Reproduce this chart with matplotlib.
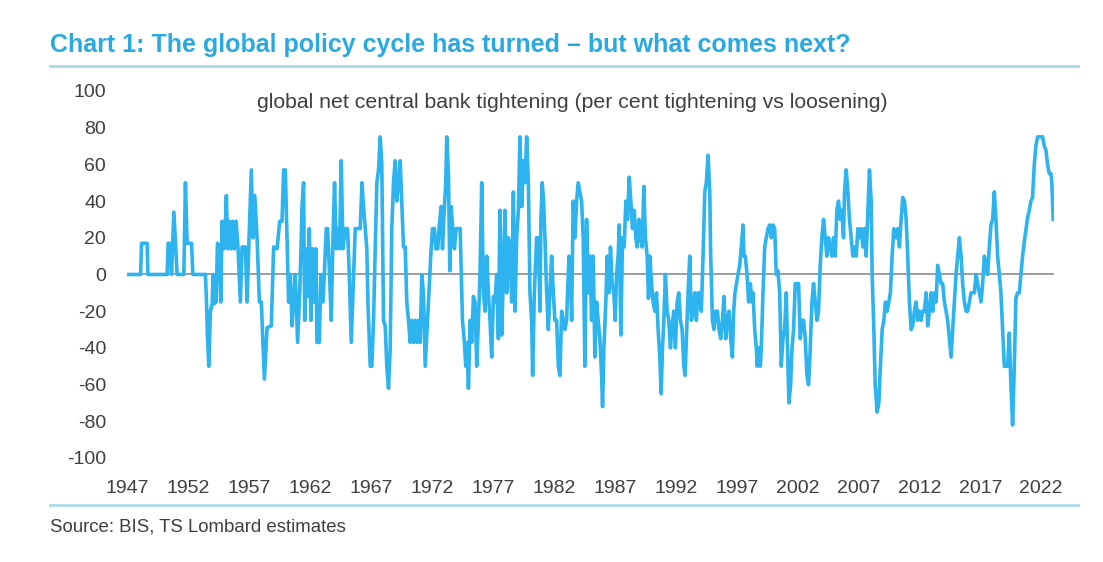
import numpy as np
import matplotlib.pyplot as plt

# global net central bank tightening (decimal year, per cent)
yrs_a = [1947.00, 1948.07, 1948.15, 1948.61, 1948.67, 1950.25, 1950.33, 1950.47, 1950.61, 1950.80,
         1951.07, 1951.62, 1951.75, 1951.89, 1952.25, 1952.36, 1953.39, 1953.48, 1953.56, 1953.67,
         1953.80, 1953.94, 1954.02, 1954.10, 1954.27, 1954.38, 1954.54, 1954.65, 1954.76, 1954.90,
         1955.03, 1955.11, 1955.22, 1955.36, 1955.50, 1955.63, 1955.77, 1955.91, 1956.07, 1956.26,
         1956.40, 1956.67, 1956.81, 1956.95, 1957.16, 1957.30, 1957.44, 1957.63, 1957.82, 1957.98,
         1958.23, 1958.45, 1958.80, 1958.99]
val_a = [0, 0, 17, 17, 0, 0, 17, 17, 0, 34,
         0, 0, 50, 17, 17, 0, 0, -15, -34, -50,
         -20, -16, 0, -16, -15, 17, 15, -15, 29, 14,
         29, 43, 14, 29, 14, 29, 14, 29, 14, -15,
         15, 15, -15, 15, 57, 20, 43, 20, -15, -15,
         -57, -29, -28, 15]

yrs_b = [1959.27, 1959.49, 1959.68, 1959.81, 1959.95, 1960.09, 1960.22, 1960.36, 1960.50, 1960.63,
         1960.77, 1960.96, 1961.13, 1961.24, 1961.32, 1961.45, 1961.54, 1961.67, 1961.78, 1961.92,
         1962.05, 1962.19, 1962.33, 1962.46, 1962.55, 1962.74, 1962.87, 1963.04, 1963.15, 1963.31,
         1963.42, 1963.58, 1963.72, 1963.86, 1963.99, 1964.13, 1964.27, 1964.40, 1964.54, 1964.68,
         1964.87, 1965.06, 1965.20, 1965.36, 1965.50, 1965.69, 1966.10, 1966.24, 1966.37, 1966.51,
         1966.64, 1966.73, 1966.92, 1967.05, 1967.19, 1967.33, 1967.46, 1967.60, 1967.74, 1967.87,
         1968.01, 1968.15, 1968.28, 1968.42, 1968.56, 1968.69, 1968.83, 1968.97, 1969.10, 1969.24,
         1969.38, 1969.51, 1969.65, 1969.79, 1969.92, 1970.06, 1970.20, 1970.33, 1970.47, 1970.61,
         1970.74, 1970.88, 1971.02, 1971.15, 1971.29, 1971.43]
val_b = [14, 29, 29, 57, 57, 20, -15, 0, -28, -15,
         0, -37, -10, 15, 37, 50, -25, 14, -12, 25,
         -25, 14, -15, 14, -37, -37, 0, -15, 0, 25,
         25, 0, -25, 20, 50, 14, 25, 14, 62, 14,
         25, 25, 0, -37, -10, 25, 25, 50, 37, 25,
         14, -15, -50, -50, -25, 15, 50, 57, 75, 60,
         -25, -28, -50, -62, -40, 25, 50, 62, 40, 50,
         62, 40, 15, 15, -15, -25, -37, -25, -37, -25,
         -37, -25, -37, 0, -10, -50]

yrs_c = [1971.92, 1972.03, 1972.19, 1972.30, 1972.46, 1972.57, 1972.74, 1972.85, 1973.01, 1973.12,
         1973.20, 1973.34, 1973.45, 1973.56, 1973.69, 1973.83, 1973.97, 1974.30, 1974.49, 1974.65,
         1974.76, 1974.87, 1974.98, 1975.12, 1975.25, 1975.39, 1975.52, 1975.66, 1975.80, 1975.93,
         1976.07, 1976.21, 1976.34, 1976.48, 1976.62, 1976.75, 1976.89, 1977.03, 1977.16, 1977.30,
         1977.44, 1977.57, 1977.71, 1977.85, 1977.98, 1978.12, 1978.26, 1978.39, 1978.53, 1978.67,
         1978.80, 1978.94, 1979.08, 1979.21, 1979.35, 1979.49, 1979.62, 1979.76, 1979.90, 1980.03,
         1980.17, 1980.25, 1980.39, 1980.58, 1980.72, 1980.85, 1980.93, 1981.04, 1981.15, 1981.26,
         1981.40, 1981.54, 1981.67, 1981.81, 1981.95, 1982.08, 1982.22, 1982.36, 1982.49, 1982.63,
         1982.77, 1982.90, 1983.04, 1983.23, 1983.37, 1983.45, 1983.58, 1983.72, 1983.86, 1983.99]
val_c = [14, 25, 25, 14, 14, 25, 37, 14, 37, 50,
         75, 55, 2, 37, 25, 14, 25, 25, -25, -37,
         -50, -37, -62, -25, -37, -12, -15, -50, -25, 0,
         50, -10, -20, 10, -10, -25, -45, -12, -15, 0,
         -35, 35, -33, 0, 35, -10, 20, 14, -15, 45,
         -20, 20, 35, 75, 37, 62, 50, 75, 50, -10,
         -25, -55, -10, 20, 20, -20, 30, 50, 40, 20,
         -10, -30, -10, 10, -10, -25, -25, -50, -55, -20,
         -25, -30, -25, 10, 0, -25, 40, 20, 40, 50]

yrs_d = [1984.27, 1984.40, 1984.54, 1984.68, 1984.81, 1984.95, 1985.09, 1985.22, 1985.36, 1985.50,
         1985.63, 1985.77, 1985.91, 1985.99, 1986.10, 1986.26, 1986.37, 1986.51, 1986.64, 1986.78,
         1986.92, 1987.03, 1987.14, 1987.27, 1987.36, 1987.49, 1987.63, 1987.77, 1987.90, 1988.04,
         1988.18, 1988.31, 1988.45, 1988.59, 1988.72, 1988.83, 1988.97, 1989.10, 1989.24, 1989.38,
         1989.51, 1989.65, 1989.76, 1989.87, 1990.01, 1990.14, 1990.28, 1990.42, 1990.55, 1990.69,
         1990.80, 1990.91, 1991.02, 1991.15, 1991.29, 1991.43, 1991.56, 1991.70, 1991.84, 1991.97,
         1992.11, 1992.25, 1992.38, 1992.52, 1992.66, 1992.77, 1992.87, 1993.01, 1993.15, 1993.28,
         1993.42, 1993.56, 1993.69, 1993.83, 1993.97, 1994.10, 1994.24, 1994.38, 1994.51, 1994.65,
         1994.79, 1994.87, 1995.01, 1995.14, 1995.28, 1995.42, 1995.55, 1995.69, 1995.83, 1995.96,
         1996.10, 1996.24, 1996.37, 1996.51, 1996.65, 1996.75, 1996.86]
val_d = [40, 20, -50, 30, -10, 10, -25, 10, -45, -15,
         -25, -35, -55, -72, -40, -15, 10, -10, 15, -5,
         -10, -25, 0, 10, 27, -33, 20, 15, 40, 30,
         53, 40, 25, 35, 20, 15, 30, 20, 15, 48,
         20, 10, -13, 10, -5, -15, -20, -10, -30, -45,
         -65, -40, -25, 0, -20, -25, -40, -28, -20, -40,
         -15, -10, -25, -30, -50, -55, -35, -10, 10, -25,
         -20, -10, -25, -10, -10, -20, 10, 45, 50, 65,
         45, 10, -25, -30, -20, -20, -30, -35, -25, -12,
         -35, -25, -20, -35, -45, -20, -10]

yrs_e = [1997.11, 1997.25, 1997.38, 1997.52, 1997.60, 1997.71, 1997.85, 1997.98, 1998.12, 1998.26,
         1998.34, 1998.48, 1998.61, 1998.69, 1998.80, 1998.94, 1999.02, 1999.16, 1999.30, 1999.43,
         1999.57, 1999.71, 1999.84, 1999.98, 2000.12, 2000.25, 2000.39, 2000.53, 2000.66, 2000.80,
         2000.93, 2001.07, 2001.21, 2001.29, 2001.43, 2001.54, 2001.67, 2001.81, 2001.95, 2002.08,
         2002.22, 2002.36, 2002.49, 2002.63, 2002.77, 2002.90, 2003.01, 2003.18, 2003.31, 2003.45,
         2003.59, 2003.72, 2003.86, 2003.99, 2004.13, 2004.27, 2004.40, 2004.54, 2004.68, 2004.81,
         2004.95, 2005.09, 2005.22, 2005.36, 2005.50, 2005.63, 2005.77, 2005.85, 2005.99, 2006.13,
         2006.26, 2006.40, 2006.54, 2006.67, 2006.81, 2006.95, 2007.08, 2007.22, 2007.36, 2007.49,
         2007.63, 2007.77, 2007.90, 2008.04, 2008.12, 2008.26, 2008.37, 2008.53, 2008.67, 2008.80,
         2008.94, 2009.08, 2009.21, 2009.35, 2009.49, 2009.62, 2009.76, 2009.90]
val_e = [0, 5, 15, 27, 10, 10, 0, -15, -5, -15,
         -10, -30, -40, -50, -40, -50, -40, -10, 15, 20,
         25, 27, 20, 27, 25, 0, 2, -10, -50, -35,
         -30, -10, -50, -70, -60, -40, -30, -5, -5, -5,
         -35, -25, -25, -35, -55, -60, -45, -15, -5, -15,
         -25, -20, 5, 20, 30, 20, 10, 20, 15, 10,
         20, 10, 35, 40, 30, 35, 20, 45, 57, 45,
         30, 20, 10, 15, 10, 25, 20, 25, 15, 25,
         10, 35, 57, 40, 0, -30, -60, -75, -70, -50,
         -30, -25, -15, -20, -15, -10, 10, 25]

yrs_f = [2010.09, 2010.22, 2010.36, 2010.50, 2010.63, 2010.77, 2010.91, 2011.04, 2011.18, 2011.32,
         2011.45, 2011.59, 2011.73, 2011.86, 2012.00, 2012.14, 2012.27, 2012.41, 2012.55, 2012.68,
         2012.82, 2012.96, 2013.09, 2013.23, 2013.37, 2013.50, 2013.64, 2013.78, 2013.91, 2014.05,
         2014.19, 2014.32, 2014.46, 2014.60, 2014.73, 2014.87, 2015.01, 2015.14, 2015.28, 2015.42,
         2015.55, 2015.69, 2015.83, 2015.96, 2016.10, 2016.24, 2016.37, 2016.51, 2016.65, 2016.78,
         2016.92, 2017.06, 2017.19, 2017.33, 2017.46, 2017.60, 2017.74, 2017.87, 2018.01, 2018.15,
         2018.28, 2018.42, 2018.56, 2018.69, 2018.83, 2018.97, 2019.10, 2019.24, 2019.38, 2019.51,
         2019.65, 2019.79, 2019.92, 2020.06, 2020.20, 2020.33, 2020.47, 2020.61, 2020.74, 2020.88,
         2021.02, 2021.15, 2021.29, 2021.43, 2021.56, 2021.70, 2021.84, 2021.97, 2022.11, 2022.25,
         2022.38, 2022.52, 2022.66, 2022.79, 2022.87, 2022.98]
val_f = [20, 25, 15, 30, 42, 40, 30, 10, -15, -30,
         -28, -20, -15, -25, -20, -25, -20, -20, -10, -28,
         -20, -10, -20, -10, -15, 5, 0, -5, -5, -15,
         -20, -25, -35, -45, -30, -15, 0, 10, 20, 10,
         -5, -15, -20, -20, -15, -10, -10, -10, 0, -5,
         -10, -15, -5, 10, 5, 0, 15, 27, 30, 45,
         30, 10, 0, -10, -30, -50, -50, -50, -32, -60,
         -82, -50, -13, -10, -10, 0, 10, 18, 24, 31,
         35, 40, 42, 60, 70, 75, 75, 75, 75, 70,
         68, 60, 55, 55, 50, 30]

years = np.concatenate([yrs_a, yrs_b, yrs_c, yrs_d, yrs_e, yrs_f])
values = np.concatenate([val_a, val_b, val_c, val_d, val_e, val_f])

tick_years = list(range(1947, 2023, 5))
y_ticks = list(range(-100, 101, 20))

title = "Chart 1: The global policy cycle has turned \u2013 but what comes next?"
subtitle = "global net central bank tightening (per cent tightening vs loosening)"
source = "Source: BIS, TS Lombard estimates"

line_blue = "#2DB3EE"
title_blue = "#2AA9E1"
rule_blue = "#A8DBE7"
grey_txt = "#3F3F3F"

plt.rcParams['font.family'] = ['Liberation Sans', 'DejaVu Sans']
plt.rcParams['axes.unicode_minus'] = False

fig = plt.figure(figsize=(11.03, 5.62), dpi=100)
ax = fig.add_axes([0.1151, 0.1851, 0.8405, 0.6530])

ax.axhline(0, color="#8C8C8C", lw=1.2, zorder=1)
ax.plot(years, values, color=line_blue, lw=2.6, solid_joinstyle='round', zorder=2)

ax.set_xlim(1946.95, 2023.05)
ax.set_ylim(-100, 100)
ax.set_xticks(tick_years)
ax.set_yticks(y_ticks)
ax.tick_params(axis='both', length=0, labelsize=14, labelcolor=grey_txt)
ax.tick_params(axis='x', pad=16)
ax.tick_params(axis='y', pad=15)
for s in ax.spines.values():
    s.set_visible(False)

fig.text(572 / 1103, 1 - 102 / 562, subtitle, ha='center', va='center',
         fontsize=15.3, color=grey_txt)

fig.text(50 / 1103, 1 - 45 / 562, title, ha='left', va='center', fontsize=18,
         fontweight='bold', color=title_blue)
fig.add_artist(plt.Line2D([50 / 1103, 1078 / 1103], [1 - 66 / 562] * 2, color=rule_blue, lw=2))
fig.add_artist(plt.Line2D([50 / 1103, 1078 / 1103], [1 - 505 / 562] * 2, color=rule_blue, lw=2))
fig.text(50 / 1103, 1 - 527 / 562, source, ha='left', va='center', fontsize=13.4, color=grey_txt)

fig.savefig("out.png", dpi=100)
